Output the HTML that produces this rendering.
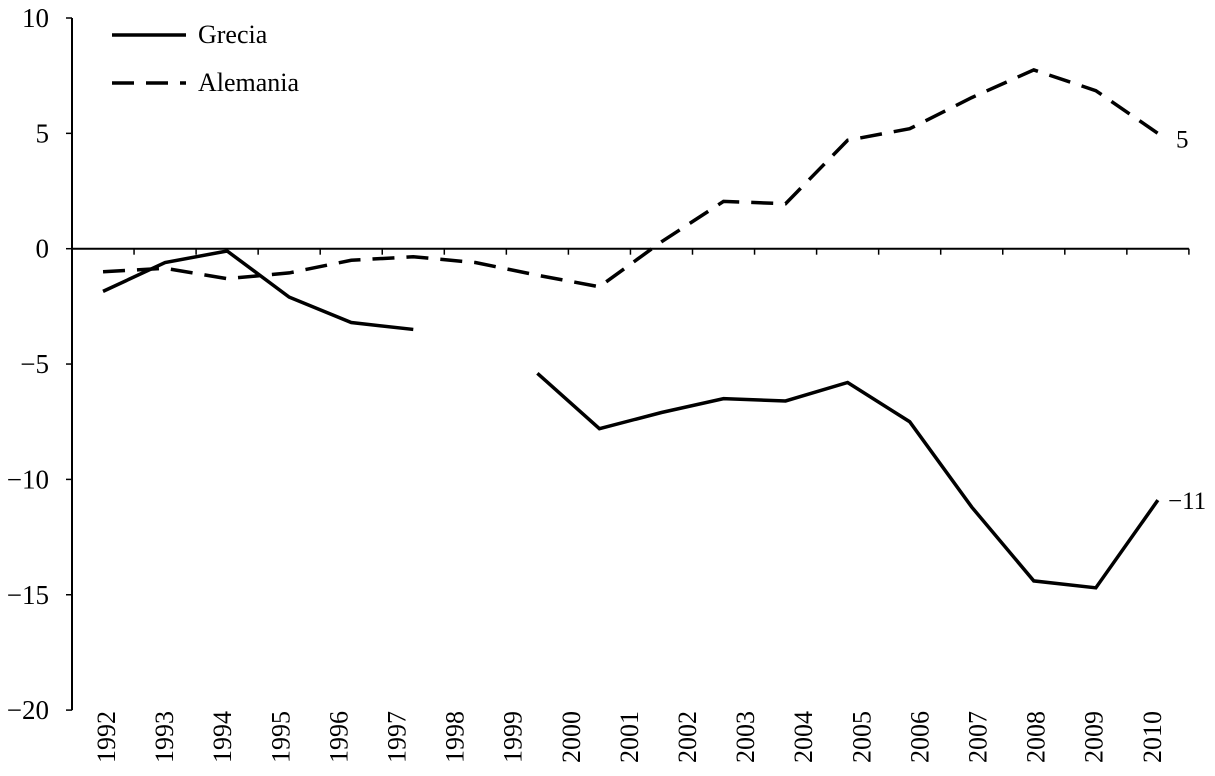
<!DOCTYPE html>
<html><head><meta charset="utf-8"><style>
body{margin:0;background:#fff}
svg{display:block;font-family:"Liberation Serif",serif}
</style></head><body>
<svg id="c" width="1215" height="776"></svg>
<script>
const years=["1992","1993","1994","1995","1996","1997","1998","1999","2000","2001","2002","2003","2004","2005","2006","2007","2008","2009","2010"];
const grecia=[-1.85,-0.6,-0.1,-2.1,-3.2,-3.5,null,-5.4,-7.8,-7.1,-6.5,-6.6,-5.8,-7.5,-11.2,-14.4,-14.7,-10.9];
const alemania=[-1.0,-0.85,-1.3,-1.05,-0.5,-0.35,-0.6,-1.15,-1.65,0.3,2.05,1.95,4.7,5.2,6.55,7.75,6.85,5.0];
const yTicks=[10,5,0,-5,-10,-15,-20];
const yLabels=["10","5","0","\u22125","\u221210","\u221215","\u221220"];
const endLabels=["5","\u221211"];
const NS="http://www.w3.org/2000/svg",svg=document.getElementById('c');
const x0=72,cw=62.05,y=v=>248.7-v*23.07,x=i=>x0+cw*(i+0.5),lx=i=>106+i*58.1;
function el(t,a,p){const e=document.createElementNS(NS,t);for(const k in a)e.setAttribute(k,a[k]);(p||svg).appendChild(e);return e;}
let e=el('line',{x1:x0,y1:y(10),x2:x0,y2:y(-20),stroke:'#000','stroke-width':2});


e=el('line',{x1:x0,y1:y(0),x2:x0+cw*18,y2:y(0),stroke:'#000','stroke-width':2});


for(let i=1;i<=18;i++){e=el('line',{x1:x0+cw*i,y1:y(0),x2:x0+cw*i,y2:y(0)+6,stroke:'#000','stroke-width':1.5});

}
yTicks.forEach((v,i)=>{e=el('line',{x1:x0-6,y1:y(v),x2:x0,y2:y(v),stroke:'#000','stroke-width':1.5});


e=el('text',{x:49,y:y(v)+9,'text-anchor':'end','font-size':27});e.textContent=yLabels[i];

});
years.forEach((t,i)=>{e=el('text',{transform:`translate(${lx(i)+9},763) rotate(-90)`,'font-size':26});e.textContent=t;

});
function series(arr,dash,name){let d='',pen=false;arr.forEach((v,i)=>{if(v===null){pen=false;return;}d+=(pen?'L':'M')+x(i)+','+y(v);pen=true;});
const p=el('path',{d:d,fill:'none',stroke:'#000','stroke-width':3.5,'stroke-dasharray':dash||'none'});

}
series(grecia,null,'grecia-line');
series(alemania,'22,12','alemania-line');
e=el('text',{x:1176,y:y(alemania[17])+14,'font-size':25});e.textContent=endLabels[0];


e=el('text',{x:1168,y:y(grecia[17])+9,'font-size':25});e.textContent=endLabels[1];


const lg=el('g',{});


e=el('line',{x1:112,y1:35,x2:186,y2:35,stroke:'#000','stroke-width':3.5},lg);


e=el('text',{x:198,y:43,'font-size':26},lg);e.textContent='Grecia';


e=el('line',{x1:112,y1:83,x2:186,y2:83,stroke:'#000','stroke-width':3.5,'stroke-dasharray':'22,12'},lg);


e=el('text',{x:198,y:91,'font-size':26},lg);e.textContent='Alemania';


</script>
</body></html>
